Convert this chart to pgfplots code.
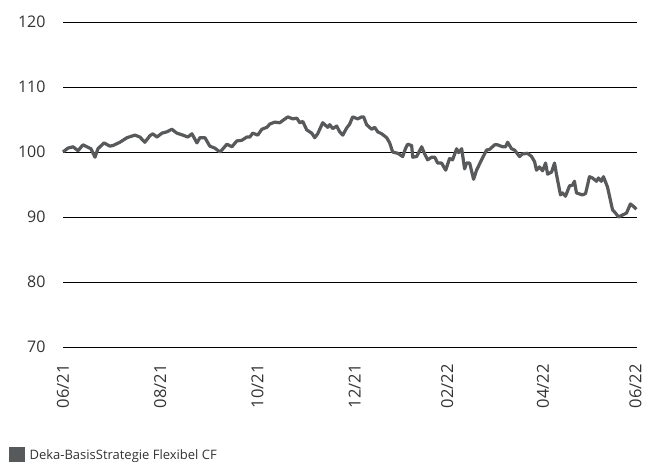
\documentclass[border=0pt]{standalone}
\usepackage{fontspec}
\setmainfont{Open Sans}
\usepackage{pgfplots}
\pgfplotsset{compat=1.18}
\definecolor{linegray}{HTML}{58595B}
\begin{document}
\begin{tikzpicture}
\useasboundingbox (0,0) rectangle (654pt,462pt);
\begin{axis}[
  at={(63pt,115pt)}, anchor=south west,
  scale only axis, width=574pt, height=325pt,
  xmin=0, xmax=366, ymin=70, ymax=120,
  ytick={70,80,90,100,110,120},
  xtick={0,62,124,186,245,306,365},
  xticklabels={06/21,08/21,10/21,12/21,02/22,04/22,06/22},
  /pgf/number format/assume math mode=true,
  axis line style={draw=none},
  major tick length=0pt,
  ymajorgrids, grid style={black, line width=0.9pt},
  yticklabel style={font=\fontsize{16}{16}\selectfont, text=black!80, xshift=-14pt},
  xticklabel style={font=\fontsize{16.5}{16.5}\selectfont, text=black!80, yshift=-14pt, rotate=90, anchor=east},
  clip=false,
  legend style={at={(-0.0949,-0.358)}, anchor=south west, draw=none, fill=none,
    inner sep=0pt, outer sep=0pt, font=\fontsize{13}{13}\selectfont,
    nodes={inner sep=1.5pt, text=black!80}},
  legend cell align=left,
  legend image code/.code={\path[fill=linegray, draw=none, line width=0pt] (0pt,-8pt) rectangle (16.5pt,8pt); \path[draw=none, fill=none] (0pt,0pt) -- (19.5pt,0pt);},
]
\addplot[color=linegray, line width=3.2pt, line join=round] coordinates {
(0,100.0) (3.2,100.6) (6.4,100.8) (9.6,100.2) (12.7,101.1) (15.3,100.8) (17.8,100.5)
(20.4,99.2) (22.3,100.5) (26.1,101.4) (29.9,100.9) (31.9,101.0) (36.3,101.5) (40.8,102.2)
(45.9,102.6) (49.0,102.3) (52.2,101.5) (55.4,102.5) (57.3,102.8) (59.9,102.3) (63.1,102.9)
(66.2,103.1) (69.4,103.5) (72.6,102.9) (76.4,102.6) (79.6,102.3) (82.2,102.8) (85.4,101.4)
(87.3,102.2) (90.5,102.2) (93.6,100.9) (96.8,100.6) (100.0,100.0) (101.3,100.3) (104.5,101.2)
(107.7,100.8) (110.8,101.7) (114.0,101.8) (117.2,102.3) (119.1,102.3) (121.0,102.9) (124.2,102.6)
(126.8,103.5) (130.0,103.8) (131.9,104.3) (135.0,104.6) (138.2,104.5) (143.3,105.4) (146.5,105.1)
(149.1,105.2) (151.0,104.5) (152.9,104.7) (155.4,103.4) (158.6,102.9) (160.5,102.2) (162.4,102.8)
(165.6,104.5) (168.8,103.8) (170.1,104.2) (172.0,103.6) (174.5,104.0) (176.4,103.1) (178.4,102.6)
(180.9,103.7) (182.8,104.3) (184.7,105.4) (187.9,105.1) (190.5,105.4) (191.7,105.4) (193.6,104.2)
(196.8,103.5) (198.7,103.8) (200.7,103.1) (203.2,102.8) (206.4,102.2) (208.3,101.4) (210.2,100.0)
(213.4,99.8) (216.6,99.3) (218.5,100.6) (219.8,101.2) (222.3,101.0) (223.0,99.2) (225.5,99.3)
(228.7,100.8) (230.6,99.7) (232.5,98.8) (235.1,99.2) (237.0,99.2) (238.9,98.3) (241.4,98.3)
(244.0,97.2) (246.5,99.0) (248.4,98.8) (251.0,100.5) (252.3,99.9) (254.2,100.5) (256.1,97.4)
(257.3,98.3) (259.3,98.3) (261.8,95.8) (263.7,97.2) (266.9,98.8) (270.1,100.3) (272.0,100.4)
(275.2,101.1) (277.1,101.1) (280.3,100.8) (282.2,100.8) (283.5,101.5) (286.0,100.5) (287.9,100.3)
(291.1,99.3) (293.0,99.7) (296.2,99.8) (298.8,99.3) (300.7,98.5) (301.9,97.2) (303.8,97.7)
(305.8,97.1) (307.7,98.3) (309.0,96.6) (311.5,96.9) (313.4,98.3) (314.7,96.5) (317.2,93.4)
(318.5,93.7) (320.4,93.2) (323.0,94.8) (324.9,94.9) (326.1,95.5) (327.4,93.7) (331.2,93.4)
(333.2,93.6) (335.7,96.2) (337.6,96.0) (340.2,95.5) (341.4,96.0) (343.3,95.5) (344.6,96.2)
(347.2,94.6) (350.4,91.1) (352.3,90.6) (354.2,90.0) (356.7,90.3) (359.3,90.6) (361.8,92.0)
(364.4,91.5) (365.6,91.2)
};
\addlegendentry{Deka-BasisStrategie Flexibel CF}
\end{axis}
\end{tikzpicture}
\end{document}
